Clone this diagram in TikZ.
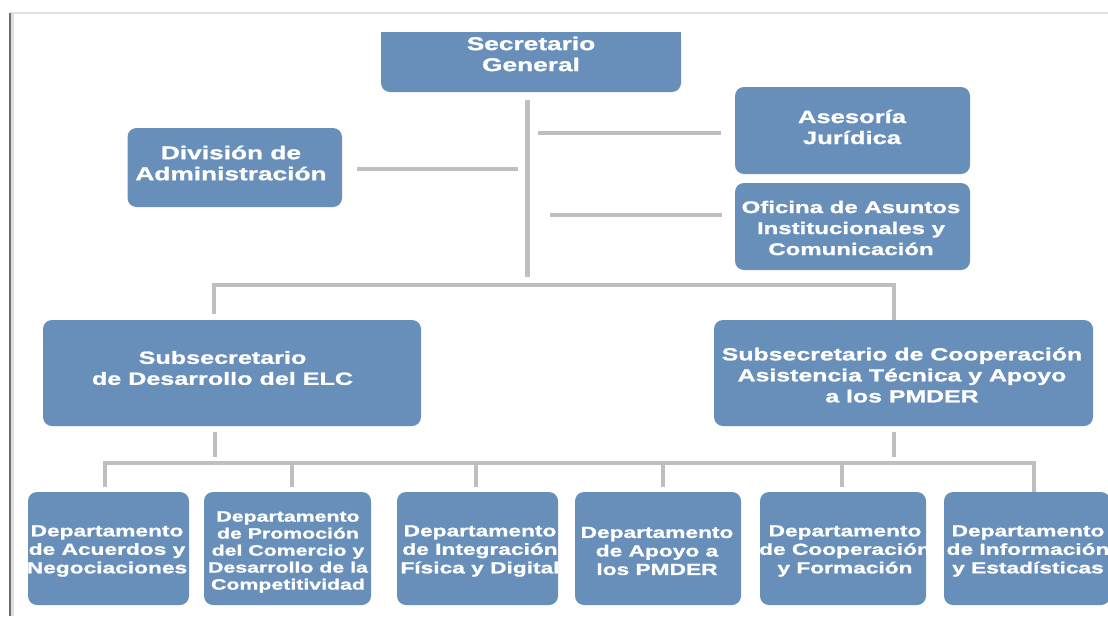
\documentclass[tikz,border=0pt]{standalone}
\usepackage{fontspec}
\setmainfont{Liberation Sans}[FakeStretch=1.42, BoldFeatures={FakeBold=1.2}]
\definecolor{boxc}{RGB}{104,143,186}
\definecolor{linec}{RGB}{191,191,191}
\definecolor{framedark}{RGB}{110,110,110}
\definecolor{framelight}{RGB}{225,225,225}
\newcommand\myfs[2]{\fontsize{#1}{#2}\selectfont\bfseries}
\tikzset{
  box/.style={fill=boxc, rounded corners=9pt, inner sep=0pt},
  conn/.style={draw=linec, line width=4.5pt},
  txt/.style={text=white, align=center, inner sep=0pt},
}
\begin{document}
\begin{tikzpicture}[x=1pt,y=-1pt]
\useasboundingbox (0,0) rectangle (1108,616);
\fill[white] (0,0) rectangle (1108,616);
% frame
\draw[framelight, line width=1.5pt] (10,13) -- (1108,13);
\draw[gray!25, line width=3pt] (12.5,14) -- (12.5,616);
\draw[framedark, line width=1.8pt] (10,13) -- (10,616);

% boxes
\node[box, minimum width=300pt, minimum height=60pt] (sg) at (531,62) {};
\fill[boxc] (sg.north west) rectangle ([yshift=-15pt]sg.north east);
\node[box, minimum width=235pt, minimum height=87pt] (ase) at (852.5,130.5) {};
\node[box, minimum width=235pt, minimum height=87pt] (ofi) at (852.5,226.5) {};
\node[box, minimum width=214.5pt, minimum height=79pt] (div) at (234.75,167.5) {};
\node[box, minimum width=378pt, minimum height=106pt] (elc) at (232,373) {};
\node[box, minimum width=379pt, minimum height=106pt] (coop) at (903.5,373) {};
\node[box, minimum width=161pt, minimum height=113pt] (b1) at (108.5,548.5) {};
\node[box, minimum width=167pt, minimum height=113pt] (b2) at (287.5,548.5) {};
\node[box, minimum width=161pt, minimum height=113pt] (b3) at (477.5,548.5) {};
\node[box, minimum width=166pt, minimum height=113pt] (b4) at (658,548.5) {};
\node[box, minimum width=166pt, minimum height=113pt] (b5) at (843,548.5) {};
\node[box, minimum width=166pt, minimum height=113pt] (b6) at (1027,548.5) {};

% connector coordinates
\coordinate (trunk) at (527.5,100);
\coordinate (busTL) at (214,285);
\coordinate (busTR) at (894,285);
\coordinate (ofiL) at (550,215);
\coordinate (aseL) at (538,133);
\coordinate (divL) at (357,169);
\coordinate (d1) at (105,463);
\coordinate (d2) at (292,463);
\coordinate (d3) at (476,463);
\coordinate (d4) at (663,463);
\coordinate (d5) at (842,463);
\coordinate (d6) at (1034,463);

% connectors
\draw[conn, shorten <=8pt, shorten >=8pt] (sg.south -| trunk) -- (busTL -| trunk);
\draw[conn, shorten >=10pt] (divL) -- (divL -| trunk);
\draw[conn, shorten >=14pt] (aseL) -- (aseL -| ase.west);
\draw[conn, shorten >=13pt] (ofiL) -- (ofiL -| ofi.west);
\draw[conn, shorten <=6pt] (busTL |- elc.north) -- (busTL) -- (busTR) -- (busTR |- coop.north);
\draw[conn, shorten <=6pt, shorten >=6pt] (elc.south -| 215,0) -- (d1 -| 215,0);
\draw[conn, shorten <=6pt, shorten >=6pt] (coop.south -| 894,0) -- (d1 -| 894,0);
\draw[conn, shorten <=5pt] (d1 |- b1.north) -- (d1) -- (d6) -- (d6 |- b6.north);
\foreach \d/\b in {d2/b2,d3/b3,d4/b4,d5/b5}
  \draw[conn, shorten >=5pt] (\d) -- (\d |- \b.north);
\draw[conn, shorten >=5pt] (d6) -- (d6 |- b6.north);

% texts
\node[txt, font=\myfs{18.5}{21}] (sgT) at (531,54) {Secretario\\General};
\node[txt, font=\myfs{18}{21}] (aseT) at (852,127) {Asesoría\\Jurídica};
\node[txt, font=\myfs{16.9}{21}] (ofiT) at (851,228) {Oficina de Asuntos\\Institucionales y\\Comunicación};
\node[txt, font=\myfs{18.5}{21}] (divT) at (231,163) {División de\\Administración};
\node[txt, font=\myfs{17.7}{21}] (elcT) at (222.5,368) {Subsecretario\\de Desarrollo del ELC};
\node[txt, font=\myfs{17.5}{21}] (coopT) at (902,375) {Subsecretario de Cooperación\\Asistencia Técnica y Apoyo\\a los PMDER};
\node[txt, font=\myfs{16}{18.5}] (b1T) at (107,551) {Departamento\\de Acuerdos y\\Negociaciones};
\node[txt, font=\myfs{15}{17}] (b2T) at (288,552) {Departamento\\de Promoción\\del Comercio y\\Desarrollo de la\\Competitividad};
\node[txt, font=\myfs{16}{18.5}] (b3T) at (480,551) {Departamento\\de Integración\\Física y Digital};
\node[txt, font=\myfs{16}{18.5}] (b4T) at (657,551) {Departamento\\de Apoyo a\\los PMDER};
\node[txt, font=\myfs{16}{18.5}] (b5T) at (845,551) {Departamento\\de Cooperación\\y Formación};
\node[txt, font=\myfs{16}{18.5}] (b6T) at (1028,551) {Departamento\\de Información\\y Estadísticas};
\end{tikzpicture}
\end{document}
